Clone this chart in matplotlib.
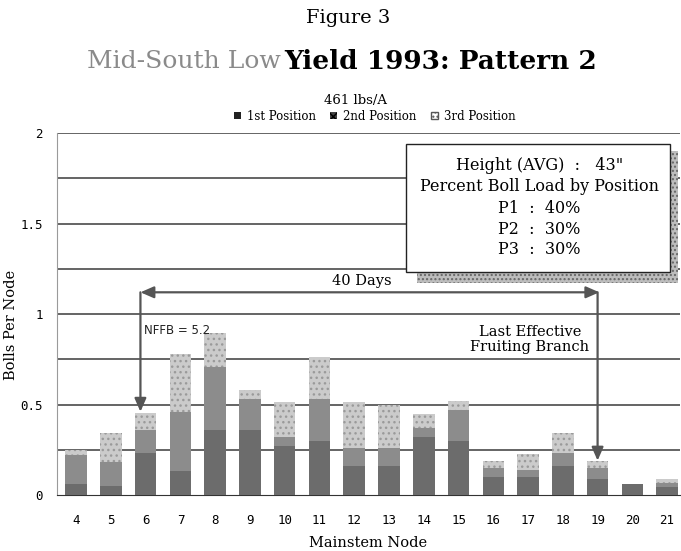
import matplotlib
matplotlib.use("Agg")
import matplotlib.pyplot as plt
from matplotlib.patches import Rectangle, Patch
import numpy as np

# mainstem nodes and bolls per node by fruiting position
nodes = [4, 5, 6, 7, 8, 9, 10, 11, 12, 13, 14, 15, 16, 17, 18, 19, 20, 21]
pos1 = [0.06, 0.05, 0.23, 0.13, 0.36, 0.36, 0.27, 0.30, 0.16, 0.16, 0.32, 0.30, 0.10, 0.10, 0.16, 0.09, 0.06, 0.045]
pos2 = [0.16, 0.13, 0.13, 0.33, 0.35, 0.17, 0.05, 0.23, 0.10, 0.10, 0.05, 0.17, 0.05, 0.04, 0.07, 0.06, 0.00, 0.02]
pos3 = [0.03, 0.16, 0.095, 0.32, 0.185, 0.05, 0.195, 0.23, 0.255, 0.24, 0.08, 0.05, 0.04, 0.085, 0.115, 0.04, 0.00, 0.025]
series_labels = ["1st Position", "2nd Position", "3rd Position"]
box_lines = ['Height (AVG)  :   43"', "Percent Boll Load by Position",
             "P1  :  40%", "P2  :  30%", "P3  :  30%"]

serif = "DejaVu Serif"
mono = "DejaVu Sans Mono"
c1, c2, c3 = "#6c6c6c", "#8c8c8c", "#cbcbcb"

fig = plt.figure(figsize=(6.81, 5.51), dpi=100)
ax = fig.add_axes([0.0837, 0.1016, 0.9148, 0.657])

x = np.array(nodes)
p1 = np.array(pos1)
p2 = np.array(pos2)
p3 = np.array(pos3)
w = 0.62
ax.bar(x, p1, w, color=c1, zorder=3)
ax.bar(x, p2, w, bottom=p1, color=c2, zorder=3)
ax.bar(x, p3, w, bottom=p1 + p2, color=c3, edgecolor="#9a9a9a", hatch="...",
       linewidth=0, zorder=3)

ax.set_xlim(3.45, 21.37)
ax.set_ylim(0, 2)
ax.set_yticks([0, 0.5, 1, 1.5, 2])
ax.set_yticklabels(["0", "0.5", "1", "1.5", "2"], fontfamily=mono, fontsize=9)
ax.set_xticks(nodes)
ax.set_xticklabels([str(n) for n in nodes], fontfamily=mono, fontsize=9)
ax.tick_params(length=0, pad=14, axis="x")
ax.tick_params(length=0, pad=10, axis="y")
for gy in np.arange(0.25, 2.01, 0.25):
    ax.axhline(gy, color="#3a3a3a", lw=1.1, zorder=1)
for s in ["top", "right"]:
    ax.spines[s].set_visible(False)
ax.spines["left"].set_color("#9a9a9a")
ax.spines["bottom"].set_color("#333333")

ax.set_xlabel("Mainstem Node", fontfamily=serif, fontsize=10.5, labelpad=6)
ax.set_ylabel("Bolls Per Node", fontfamily=serif, fontsize=10.5)
ax.yaxis.set_label_coords(-0.063, 0.47)

# 40 days span arrows
arr = dict(arrowstyle="<|-|>,head_length=0.8,head_width=0.35", color="#555555", lw=1.6,
           shrinkA=0, shrinkB=0)
ax.annotate("", xy=(5.85, 1.12), xytext=(19.05, 1.12), arrowprops=arr, zorder=4)
down = dict(arrowstyle="-|>,head_length=0.8,head_width=0.35", color="#555555", lw=1.6,
            shrinkA=0, shrinkB=0)
ax.annotate("", xy=(5.85, 0.46), xytext=(5.85, 1.12), arrowprops=down, zorder=4)
ax.annotate("", xy=(19.0, 0.19), xytext=(19.0, 1.12), arrowprops=down, zorder=4)
ax.text(11.35, 1.18, "40 Days", fontfamily=serif, fontsize=10.5, ha="left", va="center", zorder=5)
ax.text(5.95, 0.91, "NFFB = 5.2", fontfamily="DejaVu Sans", fontsize=8.5, color="#222222",
        ha="left", va="center", zorder=5)
ax.text(17.05, 0.86, "Last Effective\nFruiting Branch", fontfamily=serif, fontsize=10.5,
        ha="center", va="center", linespacing=1.15, zorder=5)

# titles
fig.text(0.511, 0.967, "Figure 3", fontfamily=serif, fontsize=14, ha="center", va="center")
fig.text(0.412, 0.889, "Mid-South Low", fontfamily=serif, fontsize=18,
         color="#8a8a8a", ha="right", va="center")
fig.text(0.418, 0.889, "Yield 1993: Pattern 2", fontfamily=serif, fontsize=19, fontweight="bold",
         ha="left", va="center")
fig.text(0.522, 0.818, "461 lbs/A", fontfamily=serif, fontsize=9.5, ha="center", va="center")

handles = [Patch(facecolor="#222222"), Patch(facecolor="#444444", hatch="xx"),
           Patch(facecolor="white", edgecolor="#555555", hatch="....")]
fig.legend(handles, series_labels, loc="center", bbox_to_anchor=(0.55, 0.789), ncol=3,
           frameon=False, prop={"family": serif, "size": 8.5}, handlelength=0.6,
           handleheight=0.6, handletextpad=0.5, columnspacing=1.2, borderpad=0)

# info box with shadow
fig.add_artist(Rectangle((0.612, 0.486), 0.384, 0.24, transform=fig.transFigure,
                         facecolor="#bdbdbd", edgecolor="#666666", lw=0, hatch="....", zorder=5))
fig.add_artist(Rectangle((0.596, 0.506), 0.388, 0.233, transform=fig.transFigure,
                         facecolor="white", edgecolor="#222222", lw=1.0, zorder=6))
for yy, line in zip([0.700, 0.661, 0.621, 0.584, 0.548], box_lines):
    fig.text(0.792, yy, line, fontfamily=serif, fontsize=11.5, ha="center", va="center", zorder=7)

fig.savefig("out.png", dpi=100)
